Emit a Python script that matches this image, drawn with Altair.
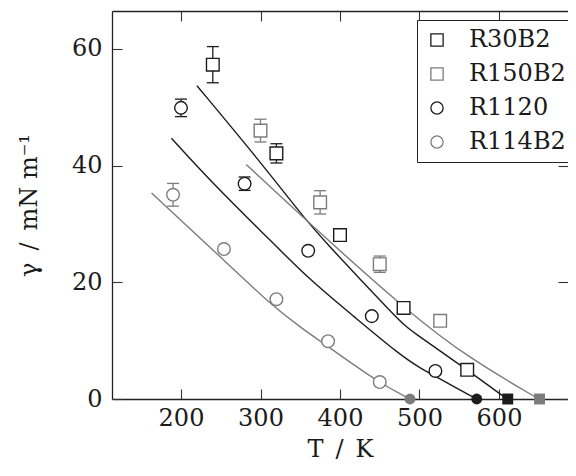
import altair as alt
import pandas as pd

FONT = "DejaVu Serif"

series = ["R30B2", "R150B2", "R1120", "R114B2"]
series_colors = ["#1c1c1c", "#7c7c7c", "#1c1c1c", "#7c7c7c"]
series_shapes = ["square", "square", "circle", "circle"]

# experimental points (T / K, gamma / mN m-1, half error bar)
r30_T = [240, 320, 400, 480, 560]
r30_g = [57.3, 42.1, 28.1, 15.6, 5.0]
r30_e = [3.1, 1.65, 1.0, 0, 0]
r150_T = [300, 375, 450, 526]
r150_g = [46.0, 33.7, 23.1, 13.4]
r150_e = [1.95, 2.0, 1.4, 0]
r1120_T = [200, 280, 360, 440, 520]
r1120_g = [49.9, 36.9, 25.4, 14.2, 4.8]
r1120_e = [1.5, 1.15, 0, 0, 0]
r114_T = [190, 254, 320, 385, 450]
r114_g = [35.0, 25.7, 17.1, 9.9, 2.9]
r114_e = [1.95, 0, 0, 0, 0]

# critical temperatures (gamma = 0)
crit_T = [611, 651, 572, 488]

# fitted curves
c30_T = [220, 300, 350, 375, 476, 488, 555, 610]
c30_g = [53.7, 40.6, 31.9, 27.8, 13.2, 11.8, 5.5, 0]
c150_T = [282, 379, 488, 560, 650]
c150_g = [40.2, 27.9, 14.7, 7.2, 0]
c1120_T = [188, 236, 310, 362, 417, 476, 501, 517, 572]
c1120_g = [44.7, 37.5, 27.5, 20.4, 14.2, 7.5, 5.3, 4.1, 0]
c114_T = [163, 254, 312, 352, 385, 450, 488]
c114_g = [35.3, 23.8, 16.3, 12.1, 9.0, 2.7, 0]

x_ticks = [200, 300, 400, 500, 600]
y_ticks = [0, 20, 40, 60]
x_dom = [113.2, 686.8]
y_dom = [0, 66.5]

col = dict(zip(series, series_colors))
shp = dict(zip(series, series_shapes))

pts_rows, err_rows, cap_rows, curve_rows, crit_rows = [], [], [], [], []
for s, Ts, gs, es in [("R30B2", r30_T, r30_g, r30_e), ("R150B2", r150_T, r150_g, r150_e),
                      ("R1120", r1120_T, r1120_g, r1120_e), ("R114B2", r114_T, r114_g, r114_e)]:
    for T, g, e in zip(Ts, gs, es):
        pts_rows.append({"T": T, "g": g, "series": s})
        if e > 0:
            err_rows.append({"T": T, "lo": g - e, "hi": g + e, "lc": col[s]})
            cap_rows.append({"T": T, "c": g - e, "lc": col[s]})
            cap_rows.append({"T": T, "c": g + e, "lc": col[s]})
for s, Ts, gs in [("R30B2", c30_T, c30_g), ("R150B2", c150_T, c150_g),
                  ("R1120", c1120_T, c1120_g), ("R114B2", c114_T, c114_g)]:
    for T, g in zip(Ts, gs):
        curve_rows.append({"T": T, "g": g, "series": s, "lc": col[s]})
for s, T in zip(series, crit_T):
    crit_rows.append({"T": T, "g": 0, "lc": col[s], "sh": shp[s]})

pts = pd.DataFrame(pts_rows)
err = pd.DataFrame(err_rows)
caps = pd.DataFrame(cap_rows)
curves = pd.DataFrame(curve_rows)
crit = pd.DataFrame(crit_rows)

xs = alt.Scale(domain=x_dom, nice=False, zero=False)
ys = alt.Scale(domain=y_dom, nice=False, zero=False)

FS = 24
common = dict(offset=-10, tickSize=10, domain=False, grid=False, tickColor="#333",
              tickWidth=1.1, labelFont=FONT, labelFontSize=FS, labelColor="#1a1a1a",
              titleFont=FONT, titleFontSize=FS, titleColor="#1a1a1a", titleFontWeight="normal")
ax_bottom = alt.Axis(values=x_ticks, orient="bottom", labelPadding=7, title="T\u2002/\u2002K",
                     titlePadding=7, **common)
ax_left = alt.Axis(values=y_ticks, orient="left", labelPadding=10, title="\u03b3\u2002/\u2002mN m\u207b\u00b9",
                   titlePadding=30, **common)
ax_top = alt.Axis(values=x_ticks, orient="top", labels=False, title=None, **common)
ax_right = alt.Axis(values=y_ticks, orient="right", labels=False, title=None, **common)

frame = dict(domain=True, domainColor="#222", domainWidth=1.3, ticks=False, labels=False,
             grid=False, title=None)
fr_bottom = alt.Axis(orient="bottom", **frame)
fr_left = alt.Axis(orient="left", **frame)
fr_top = alt.Axis(orient="top", **frame)

curve_layer = alt.Chart(curves).mark_line(strokeWidth=1.4, interpolate="basis").encode(
    x=alt.X("T:Q", scale=xs, axis=ax_top),
    y=alt.Y("g:Q", scale=ys, axis=ax_right),
    color=alt.Color("lc:N", scale=None),
    detail="series:N",
)
err_layer = alt.Chart(err).mark_rule(strokeWidth=1.3).encode(
    x=alt.X("T:Q", scale=xs, axis=fr_bottom),
    y=alt.Y("lo:Q", scale=ys, axis=fr_left),
    y2="hi:Q",
    color=alt.Color("lc:N", scale=None),
)
cap_layer = alt.Chart(caps).mark_tick(orient="horizontal", size=12, thickness=1.3, opacity=1).encode(
    x=alt.X("T:Q", scale=xs, axis=fr_top),
    y=alt.Y("c:Q", scale=ys, axis=None),
    color=alt.Color("lc:N", scale=None),
)
legend = alt.Legend(orient="none", legendX=305, legendY=9, title=None, strokeColor="#222",
                    fillColor="white", padding=8, labelFont=FONT, labelFontSize=FS,
                    labelColor="#1a1a1a", symbolSize=150, symbolStrokeWidth=1.3,
                    rowPadding=10, labelOffset=20)
point_layer = alt.Chart(pts).mark_point(filled=False, fill="white", size=160, strokeWidth=1.4,
                                        opacity=1).encode(
    x=alt.X("T:Q", scale=xs, axis=ax_bottom),
    y=alt.Y("g:Q", scale=ys, axis=ax_left),
    color=alt.Color("series:N", scale=alt.Scale(domain=series, range=series_colors),
                    sort=series, legend=legend),
    shape=alt.Shape("series:N", scale=alt.Scale(domain=series, range=series_shapes),
                    sort=series, legend=legend),
)
crit_layer = alt.Chart(crit).mark_point(filled=True, size=120, opacity=1).encode(
    x=alt.X("T:Q", scale=xs, axis=None),
    y=alt.Y("g:Q", scale=ys, axis=None),
    color=alt.Color("lc:N", scale=None),
    shape=alt.Shape("sh:N", scale=None),
)

chart = alt.layer(curve_layer, err_layer, cap_layer, point_layer, crit_layer).resolve_axis(
    x="independent", y="independent"
).properties(
    width=456, height=388,
    autosize=alt.AutoSizeParams(type="none"),
    padding={"left": 104, "top": 3, "right": 0, "bottom": 67},
).configure(font=FONT).configure_view(stroke=None)

chart.save("out.html", embed_options={"renderer": "svg", "actions": False})
